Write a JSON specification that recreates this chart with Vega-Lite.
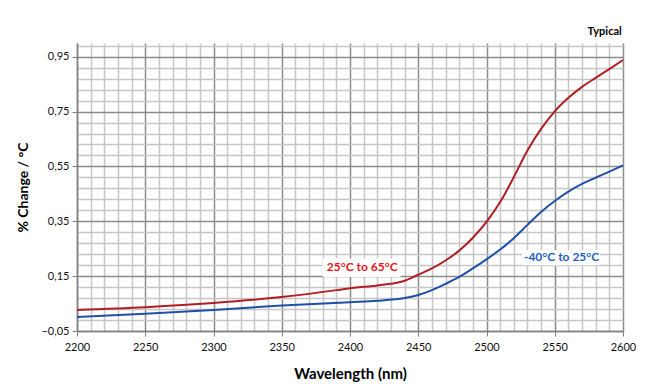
{
  "$schema": "https://vega.github.io/schema/vega-lite/v6.json",
  "width": 546,
  "height": 288,
  "autosize": {"type": "none"},
  "padding": {"left": 77, "top": 43, "right": 27, "bottom": 61},
  "background": "white",
  "title": {"text": "Typical", "anchor": "end", "fontSize": 11, "fontWeight": "bold", "font": "Lato", "color": "#000", "offset": 3, "dx": -14},
  "config": {
    "view": {"stroke": null},
    "font": "Lato"
  },
  "datasets": {
    "curves": [
      {"wl": 2200, "v": 0.027, "s": "red"},
      {"wl": 2250, "v": 0.037, "s": "red"},
      {"wl": 2300, "v": 0.052, "s": "red"},
      {"wl": 2350, "v": 0.074, "s": "red"},
      {"wl": 2390, "v": 0.099, "s": "red"},
      {"wl": 2400, "v": 0.106, "s": "red"},
      {"wl": 2410, "v": 0.111, "s": "red"},
      {"wl": 2420, "v": 0.116, "s": "red"},
      {"wl": 2430, "v": 0.122, "s": "red"},
      {"wl": 2440, "v": 0.133, "s": "red"},
      {"wl": 2450, "v": 0.155, "s": "red"},
      {"wl": 2460, "v": 0.178, "s": "red"},
      {"wl": 2470, "v": 0.207, "s": "red"},
      {"wl": 2480, "v": 0.243, "s": "red"},
      {"wl": 2490, "v": 0.290, "s": "red"},
      {"wl": 2500, "v": 0.348, "s": "red"},
      {"wl": 2510, "v": 0.420, "s": "red"},
      {"wl": 2520, "v": 0.511, "s": "red"},
      {"wl": 2530, "v": 0.608, "s": "red"},
      {"wl": 2540, "v": 0.687, "s": "red"},
      {"wl": 2550, "v": 0.751, "s": "red"},
      {"wl": 2560, "v": 0.800, "s": "red"},
      {"wl": 2570, "v": 0.840, "s": "red"},
      {"wl": 2580, "v": 0.873, "s": "red"},
      {"wl": 2590, "v": 0.905, "s": "red"},
      {"wl": 2600, "v": 0.938, "s": "red"},
      {"wl": 2200, "v": 0.001, "s": "blue"},
      {"wl": 2250, "v": 0.013, "s": "blue"},
      {"wl": 2300, "v": 0.027, "s": "blue"},
      {"wl": 2350, "v": 0.043, "s": "blue"},
      {"wl": 2400, "v": 0.055, "s": "blue"},
      {"wl": 2420, "v": 0.060, "s": "blue"},
      {"wl": 2440, "v": 0.070, "s": "blue"},
      {"wl": 2450, "v": 0.081, "s": "blue"},
      {"wl": 2460, "v": 0.099, "s": "blue"},
      {"wl": 2470, "v": 0.122, "s": "blue"},
      {"wl": 2480, "v": 0.147, "s": "blue"},
      {"wl": 2490, "v": 0.178, "s": "blue"},
      {"wl": 2500, "v": 0.211, "s": "blue"},
      {"wl": 2510, "v": 0.247, "s": "blue"},
      {"wl": 2520, "v": 0.288, "s": "blue"},
      {"wl": 2530, "v": 0.337, "s": "blue"},
      {"wl": 2540, "v": 0.384, "s": "blue"},
      {"wl": 2550, "v": 0.424, "s": "blue"},
      {"wl": 2560, "v": 0.458, "s": "blue"},
      {"wl": 2570, "v": 0.486, "s": "blue"},
      {"wl": 2580, "v": 0.509, "s": "blue"},
      {"wl": 2590, "v": 0.531, "s": "blue"},
      {"wl": 2600, "v": 0.554, "s": "blue"}
    ],
    "boxes": [
      {"wl": 2380, "wl2": 2437, "v": 0.147, "v2": 0.214},
      {"wl": 2526, "wl2": 2583, "v": 0.19, "v2": 0.2445}
    ],
    "labels": [
      {"wl": 2409, "v": 0.182, "label": "25°C to 65°C", "s": "red"},
      {"wl": 2555, "v": 0.219, "label": "-40°C to  25°C", "s": "blue"}
    ]
  },
  "encoding": {
    "x": {
      "field": "wl", "type": "quantitative",
      "scale": {"domain": [2200, 2600], "nice": false, "zero": false},
      "axis": {
        "title": "Wavelength (nm)",
        "titleFontSize": 15, "titleFontWeight": "bold", "titleColor": "#000", "titlePadding": 14,
        "values": [2200,2210,2220,2230,2240,2250,2260,2270,2280,2290,2300,2310,2320,2330,2340,2350,2360,2370,2380,2390,2400,2410,2420,2430,2440,2450,2460,2470,2480,2490,2500,2510,2520,2530,2540,2550,2560,2570,2580,2590,2600],
        "labelExpr": "datum.value % 50 === 0 ? format(datum.value, 'd') : ''",
        "labelOverlap": false, "labelFlush": false,
        "labelFontSize": 11, "labelColor": "#111", "labelPadding": 5,
        "domainColor": "#808080", "domainWidth": 1.5,
        "tickSize": 5,
        "tickColor": "#808080",
        "tickOpacity": {"condition": {"test": "datum.value % 50 === 0", "value": 1}, "value": 0},
        "grid": true,
        "gridColor": {"condition": {"test": "datum.value % 50 === 0", "value": "#8c8c8c"}, "value": "#c6c6c6"},
        "gridWidth": 1.5
      }
    },
    "y": {
      "field": "v", "type": "quantitative",
      "scale": {"domain": [-0.05, 1.0], "nice": false, "zero": false},
      "axis": {
        "title": "% Change / °C",
        "titleFontSize": 14, "titleFontWeight": "bold", "titleColor": "#000", "titlePadding": 10,
        "values": [-0.05,-0.01,0.03,0.07,0.11,0.15,0.19,0.23,0.27,0.31,0.35,0.39,0.43,0.47,0.51,0.55,0.59,0.63,0.67,0.71,0.75,0.79,0.83,0.87,0.91,0.95,0.99],
        "labelExpr": "abs((datum.value + 0.05) / 0.2 - round((datum.value + 0.05) / 0.2)) < 0.01 ? replace(format(datum.value, '.2f'), '.', ',') : ''",
        "labelOverlap": false, "labelFlush": false,
        "labelFontSize": 11, "labelColor": "#111", "labelPadding": 3,
        "domainColor": "#808080", "domainWidth": 1.5,
        "tickSize": 5,
        "tickColor": "#808080",
        "tickOpacity": {"condition": {"test": "abs((datum.value + 0.05) / 0.2 - round((datum.value + 0.05) / 0.2)) < 0.01", "value": 1}, "value": 0},
        "grid": true,
        "gridColor": {"condition": {"test": "abs((datum.value + 0.05) / 0.2 - round((datum.value + 0.05) / 0.2)) < 0.01", "value": "#8c8c8c"}, "value": "#c6c6c6"},
        "gridWidth": 1.5
      }
    }
  },
  "layer": [
    {
      "data": {"name": "boxes"},
      "mark": {"type": "rect", "fill": "white"},
      "encoding": {
        "x2": {"field": "wl2"},
        "y2": {"field": "v2"}
      }
    },
    {
      "data": {"name": "curves"},
      "mark": {"type": "line", "interpolate": "monotone", "strokeWidth": 2},
      "encoding": {
        "color": {"field": "s", "type": "nominal", "scale": {"domain": ["red", "blue"], "range": ["#b01e23", "#1f50a6"]}, "legend": null}
      }
    },
    {
      "data": {"name": "labels"},
      "mark": {"type": "text", "fontSize": 12, "fontWeight": "bold", "font": "Lato", "align": "center", "baseline": "middle"},
      "encoding": {
        "text": {"field": "label"},
        "color": {"field": "s", "type": "nominal", "scale": {"domain": ["red", "blue"], "range": ["#e8141b", "#1f5fbf"]}, "legend": null}
      }
    }
  ],
  "resolve": {"scale": {"color": "independent"}}
}
